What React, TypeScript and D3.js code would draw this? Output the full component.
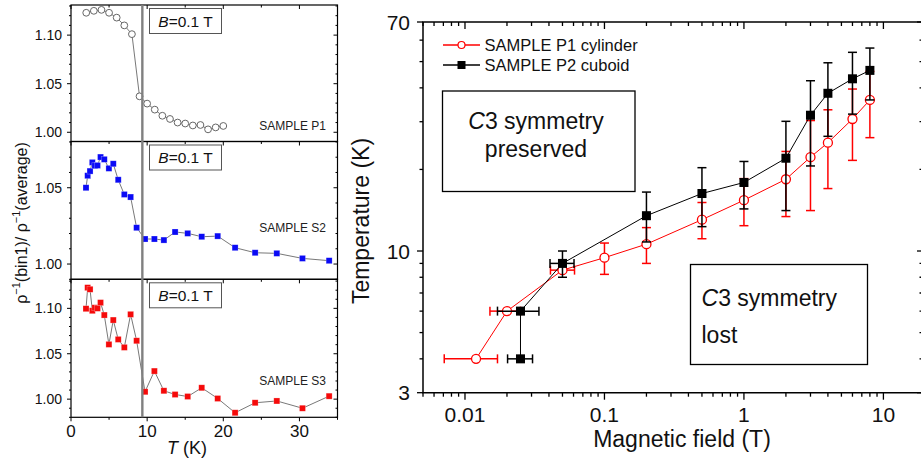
import React, { useRef, useEffect } from 'react';
import * as d3 from 'd3';

// left panels: rho^-1(bin1)/rho^-1(average) vs T at B = 0.1 T
const tempP1 = [2, 3, 4, 5, 6, 7, 8, 9, 10, 11, 12, 13, 14, 15, 16, 17, 18, 19, 20];
const ratioP1 = [1.123, 1.125, 1.126, 1.123, 1.118, 1.110, 1.101, 1.037, 1.0295, 1.0233, 1.017, 1.0137, 1.010, 1.009, 1.007, 1.0075, 1.003, 1.005, 1.0065];

const tempS = [1.97, 2.19, 2.5, 2.8, 3.13, 3.48, 3.88, 4.37, 4.98, 5.55, 6.2, 7.0, 7.83, 8.62, 9.72, 10.95, 12.2, 13.67, 15.33, 17.17, 19.27, 21.55, 24.18, 27.03, 30.4, 33.9];
const ratioS2 = [1.050, 1.0579, 1.0609, 1.0666, 1.0644, 1.0646, 1.0701, 1.0686, 1.0627, 1.0657, 1.0552, 1.0456, 1.0439, 1.0238, 1.0164, 1.0164, 1.0157, 1.021, 1.0201, 1.0179, 1.0183, 1.0107, 1.0074, 1.007, 1.0037, 1.0022];
const ratioS3 = [1.0996, 1.1228, 1.121, 1.0974, 1.1007, 1.100, 1.1063, 1.0926, 1.0603, 1.0871, 1.0658, 1.057, 1.0934, 1.0643, 1.0081, 1.0309, 1.0092, 1.0051, 1.0029, 1.0125, 1.0007, 0.985, 0.996, 0.998, 0.990, 1.0033];

const transitionT = 9.37;

// right panel: temperature vs magnetic field
const fieldP1 = [0.012, 0.02, 0.05, 0.1, 0.2, 0.5, 1, 2, 3, 4, 6, 8];
const tcP1 = [4.0, 6.0, 8.5, 9.45, 10.6, 13.05, 15.4, 18.4, 22.2, 25.1, 30.7, 36.1];
const tcP1Lo = [null, null, null, 8.2, 9.0, 11.1, 12.4, 13.4, 14.1, 17.0, 21.6, 26.2];
const tcP1Hi = [null, null, null, 10.7, 12.2, 15.1, 18.5, 23.3, 30.3, 33.2, 39.6, 46];
const fieldP1Lo = [0.0071, 0.0151, 0.041, null, null, null, null, null, null, null, null, null];
const fieldP1Hi = [0.0171, 0.025, 0.061, null, null, null, null, null, null, null, null, null];

const fieldP2 = [0.025, 0.025, 0.05, 0.2, 0.5, 1, 2, 3, 4, 6, 8];
const tcP2 = [4.0, 6.0, 9.0, 13.5, 16.3, 17.9, 22.0, 31.7, 38.2, 43.2, 46.4];
const tcP2Lo = [null, null, 8.0, 10.8, 12.3, 14.3, 14.1, 20.6, 26.5, 32.0, 36.1];
const tcP2Hi = [null, null, 10.0, 16.5, 20.3, 21.4, 30.1, 42.5, 49.5, 54.1, 56.1];
const fieldP2Lo = [0.0202, 0.0171, 0.0407, null, null, null, null, null, null, null, null];
const fieldP2Hi = [0.0305, 0.0339, 0.0605, null, null, null, null, null, null, null, null];

const FONT = '"Liberation Sans", Arial, sans-serif';

export default function App() {
  const ref = useRef<SVGSVGElement | null>(null);

  useEffect(() => {
    const svg = d3.select(ref.current);
    svg.selectAll('*').remove();
    svg.attr('font-family', FONT);

    // ---------- left: three stacked panels ----------
    const x = d3.scaleLinear().domain([0, 35]).range([71, 337.5]);

    const panels = [
      { name: 'SAMPLE P1', t: tempP1, v: ratioP1, top: 5, bottom: 141.5, domain: [0.9905, 1.131], labelY: 130, kind: 'circle', color: '#666' },
      { name: 'SAMPLE S2', t: tempS, v: ratioS2, top: 141.5, bottom: 279.3, domain: [0.990, 1.0803], labelY: 231.5, kind: 'square', color: '#0a0af5' },
      { name: 'SAMPLE S3', t: tempS, v: ratioS3, top: 279.3, bottom: 417.3, domain: [0.980, 1.132], labelY: 384.5, kind: 'square', color: '#f50a0a' },
    ];

    panels.forEach((p, pi) => {
      const y = d3.scaleLinear().domain(p.domain).range([p.bottom, p.top]);
      const g = svg.append('g');

      // y ticks every 0.01, labels every 0.05
      const lo = Math.ceil(p.domain[0] * 100 - 1e-6);
      const hi = Math.floor(p.domain[1] * 100 + 1e-6);
      for (let k = lo; k <= hi; k++) {
        const major = k % 5 === 0;
        const len = major ? 4 : 2;
        const yy = y(k / 100);
        g.append('line').attr('x1', 71 - len).attr('x2', 71).attr('y1', yy).attr('y2', yy).attr('stroke', '#000');
        g.append('line').attr('x1', 337.5 - len).attr('x2', 337.5).attr('y1', yy).attr('y2', yy).attr('stroke', '#000');
        if (major) {
          g.append('text').attr('x', 62).attr('y', yy).attr('dy', '0.35em')
            .attr('text-anchor', 'end').attr('font-size', 14).attr('fill', '#111')
            .text((k / 100).toFixed(2));
        }
      }

      // x ticks every 5, outward at bottom
      d3.range(0, 36, 5).forEach(v => {
        const len = v % 10 === 0 ? 4 : 2.5;
        g.append('line').attr('x1', x(v)).attr('x2', x(v)).attr('y1', p.bottom).attr('y2', p.bottom + len).attr('stroke', '#000');
        if (pi === 0) {
          g.append('line').attr('x1', x(v)).attr('x2', x(v)).attr('y1', p.top).attr('y2', p.top + len).attr('stroke', '#000');
        }
      });

      g.append('rect').attr('x', 71).attr('y', p.top).attr('width', 337.5 - 71).attr('height', p.bottom - p.top)
        .attr('fill', 'none').attr('stroke', '#000').attr('stroke-width', 1.2);

      // B=0.1 T box
      g.append('rect').attr('x', 149.5).attr('y', p.top + 3.5).attr('width', 72).attr('height', 25)
        .attr('fill', '#fff').attr('stroke', '#555').attr('stroke-width', 1);
      const bt = g.append('text').attr('x', 185.5).attr('y', p.top + 21.5).attr('text-anchor', 'middle')
        .attr('font-size', 15.5).attr('fill', '#111');
      bt.append('tspan').attr('font-style', 'italic').text('B');
      bt.append('tspan').text('=0.1 T');

      g.append('text').attr('x', 326).attr('y', p.labelY).attr('text-anchor', 'end')
        .attr('font-size', 12).attr('fill', '#222').text(p.name);

      const line = d3.line<number>().x((_, i) => x(p.t[i])).y(d => y(d));
      g.append('path').attr('d', line(p.v)!).attr('fill', 'none').attr('stroke', '#555').attr('stroke-width', 0.8);

      if (p.kind === 'circle') {
        g.selectAll('circle').data(p.v).join('circle')
          .attr('cx', (_, i) => x(p.t[i])).attr('cy', d => y(d)).attr('r', 3.4)
          .attr('fill', '#fff').attr('stroke', p.color).attr('stroke-width', 1);
      } else {
        g.selectAll('rect.pt').data(p.v).join('rect').attr('class', 'pt')
          .attr('x', (_, i) => x(p.t[i]) - 3).attr('y', d => y(d) - 3).attr('width', 6).attr('height', 6)
          .attr('fill', p.color).attr('stroke', '#fff').attr('stroke-opacity', 0.4).attr('stroke-width', 0.6);
      }
    });

    // transition line through all panels
    svg.append('line').attr('x1', x(transitionT)).attr('x2', x(transitionT)).attr('y1', 5).attr('y2', 417.3)
      .attr('stroke', '#808080').attr('stroke-width', 2.4);

    // bottom axis labels
    [0, 10, 20, 30].forEach(v => {
      svg.append('text').attr('x', x(v)).attr('y', 436.5).attr('text-anchor', 'middle')
        .attr('font-size', 17).attr('fill', '#111').text(v);
    });
    const tl = svg.append('text').attr('x', 187).attr('y', 453.5).attr('text-anchor', 'middle')
      .attr('font-size', 18).attr('fill', '#111');
    tl.append('tspan').attr('font-style', 'italic').text('T');
    tl.append('tspan').text(' (K)');

    const yl = svg.append('text').attr('transform', 'translate(27,223) rotate(-90)').attr('text-anchor', 'middle')
      .attr('font-size', 16).attr('fill', '#111');
    yl.append('tspan').text('ρ');
    yl.append('tspan').attr('font-size', 11).attr('dy', -7).text('−1');
    yl.append('tspan').attr('dy', 7).text('(bin1)/ ρ');
    yl.append('tspan').attr('font-size', 11).attr('dy', -7).text('−1');
    yl.append('tspan').attr('dy', 7).text('(average)');

    // ---------- right: phase diagram ----------
    const fx = d3.scaleLog().domain([0.005, 18.6]).range([423, 921]);
    const fy = d3.scaleLog().domain([3, 70]).range([392.7, 22]);
    const R = svg.append('g');
    const rightEdge = 923;

    const xMinor: number[] = [];
    [-3, -2, -1, 0, 1].forEach(d => d3.range(1, 10).forEach(k => {
      const v = k * Math.pow(10, d);
      if (v >= 0.005 && v <= 18.6) xMinor.push(v);
    }));
    xMinor.forEach(v => {
      const major = [0.01, 0.1, 1, 10].some(m => Math.abs(v - m) / m < 1e-6);
      const len = major ? 7 : 4;
      R.append('line').attr('x1', fx(v)).attr('x2', fx(v)).attr('y1', 392.7).attr('y2', 392.7 + len).attr('stroke', '#000').attr('stroke-width', 1.3);
      R.append('line').attr('x1', fx(v)).attr('x2', fx(v)).attr('y1', 22).attr('y2', 22 + len).attr('stroke', '#000').attr('stroke-width', 1.3);
    });
    [0.01, 0.1, 1, 10].forEach(v => {
      R.append('text').attr('x', fx(v)).attr('y', 422).attr('text-anchor', 'middle')
        .attr('font-size', 21).attr('fill', '#111').text(String(v));
    });

    const yMajor = [3, 10, 70];
    const yMinor = [4, 5, 6, 7, 8, 9, 20, 30, 40, 50, 60];
    [...yMajor, ...yMinor].forEach(v => {
      const len = yMajor.includes(v) ? 6 : 3.5;
      R.append('line').attr('x1', 423 - len).attr('x2', 423).attr('y1', fy(v)).attr('y2', fy(v)).attr('stroke', '#000').attr('stroke-width', 1.3);
      R.append('line').attr('x1', rightEdge - len).attr('x2', rightEdge).attr('y1', fy(v)).attr('y2', fy(v)).attr('stroke', '#000').attr('stroke-width', 1.3);
    });
    yMajor.forEach(v => {
      R.append('text').attr('x', 410).attr('y', fy(v)).attr('dy', '0.36em').attr('text-anchor', 'end')
        .attr('font-size', 21).attr('fill', '#111').text(String(v));
    });

    R.append('path').attr('d', 'M921,22H423V392.7H921').attr('fill', 'none').attr('stroke', '#000').attr('stroke-width', 1.5);

    R.append('text').attr('transform', 'translate(369,221) rotate(-90)').attr('text-anchor', 'middle')
      .attr('font-size', 23).attr('fill', '#111').text('Temperature (K)');
    R.append('text').attr('x', 682).attr('y', 447).attr('text-anchor', 'middle')
      .attr('font-size', 23).attr('fill', '#111').text('Magnetic field (T)');

    // region boxes
    R.append('rect').attr('x', 442.5).attr('y', 91).attr('width', 192.5).attr('height', 100.5)
      .attr('fill', 'none').attr('stroke', '#000').attr('stroke-width', 1.3);
    const b1 = R.append('text').attr('x', 536).attr('y', 128.5).attr('text-anchor', 'middle').attr('font-size', 23).attr('fill', '#111');
    b1.append('tspan').attr('font-style', 'italic').text('C');
    b1.append('tspan').text('3 symmetry');
    R.append('text').attr('x', 536).attr('y', 156.5).attr('text-anchor', 'middle').attr('font-size', 23).attr('fill', '#111').text('preserved');

    R.append('rect').attr('x', 690.5).attr('y', 264.5).attr('width', 177).attr('height', 100)
      .attr('fill', 'none').attr('stroke', '#000').attr('stroke-width', 1.3);
    const b2 = R.append('text').attr('x', 701.5).attr('y', 306).attr('font-size', 23).attr('fill', '#111');
    b2.append('tspan').attr('font-style', 'italic').text('C');
    b2.append('tspan').text('3 symmetry');
    R.append('text').attr('x', 701.5).attr('y', 342.5).attr('font-size', 23).attr('fill', '#111').text('lost');

    // series
    const drawSeries = (
      fx0: number[], ty: number[], lo: (number | null)[], hi: (number | null)[],
      xlo: (number | null)[], xhi: (number | null)[], color: string, kind: string,
    ) => {
      const g = R.append('g');
      fx0.forEach((f, i) => {
        const cx = fx(f), cy = fy(ty[i]);
        const l = lo[i], h = hi[i];
        if (l != null && h != null) {
          g.append('line').attr('x1', cx).attr('x2', cx).attr('y1', fy(h)).attr('y2', fy(l)).attr('stroke', color).attr('stroke-width', 1.5);
          [l, h].forEach(e => g.append('line').attr('x1', cx - 4.5).attr('x2', cx + 4.5).attr('y1', fy(e)).attr('y2', fy(e)).attr('stroke', color).attr('stroke-width', 1.5));
        }
        const a = xlo[i], b = xhi[i];
        if (a != null && b != null) {
          g.append('line').attr('x1', fx(a)).attr('x2', fx(b)).attr('y1', cy).attr('y2', cy).attr('stroke', color).attr('stroke-width', 1.5);
          [a, b].forEach(e => g.append('line').attr('x1', fx(e)).attr('x2', fx(e)).attr('y1', cy - 4.5).attr('y2', cy + 4.5).attr('stroke', color).attr('stroke-width', 1.5));
        }
      });
      const line = d3.line<number>().x((_, i) => fx(fx0[i])).y(d => fy(d));
      g.append('path').attr('d', line(ty)!).attr('fill', 'none').attr('stroke', color).attr('stroke-width', 1);
      fx0.forEach((f, i) => {
        if (kind === 'circle') {
          g.append('circle').attr('cx', fx(f)).attr('cy', fy(ty[i])).attr('r', 4.5)
            .attr('fill', '#fff').attr('stroke', color).attr('stroke-width', 1.3);
        } else {
          g.append('rect').attr('x', fx(f) - 4.5).attr('y', fy(ty[i]) - 4.5).attr('width', 9).attr('height', 9).attr('fill', color);
        }
      });
    };
    drawSeries(fieldP1, tcP1, tcP1Lo, tcP1Hi, fieldP1Lo, fieldP1Hi, '#f00', 'circle');
    drawSeries(fieldP2, tcP2, tcP2Lo, tcP2Hi, fieldP2Lo, fieldP2Hi, '#000', 'square');

    // legend
    const legend = [
      { label: 'SAMPLE P1 cylinder', color: '#f00', kind: 'circle', y: 45 },
      { label: 'SAMPLE P2 cuboid', color: '#000', kind: 'square', y: 65 },
    ];
    legend.forEach(d => {
      R.append('line').attr('x1', 443).attr('x2', 480).attr('y1', d.y).attr('y2', d.y).attr('stroke', d.color).attr('stroke-width', 1.3);
      if (d.kind === 'circle') {
        R.append('circle').attr('cx', 461.5).attr('cy', d.y).attr('r', 3.5).attr('fill', '#fff').attr('stroke', d.color).attr('stroke-width', 1.2);
      } else {
        R.append('rect').attr('x', 457.5).attr('y', d.y - 4).attr('width', 8).attr('height', 8).attr('fill', d.color);
      }
      R.append('text').attr('x', 484.5).attr('y', d.y).attr('dy', '0.35em').attr('font-size', 16.5).attr('fill', '#111').text(d.label);
    });
  }, []);

  return (
    <svg ref={ref} width={921} height={461}
      style={{ position: 'absolute', left: 0, top: 0, background: '#fff' }} />
  );
}
